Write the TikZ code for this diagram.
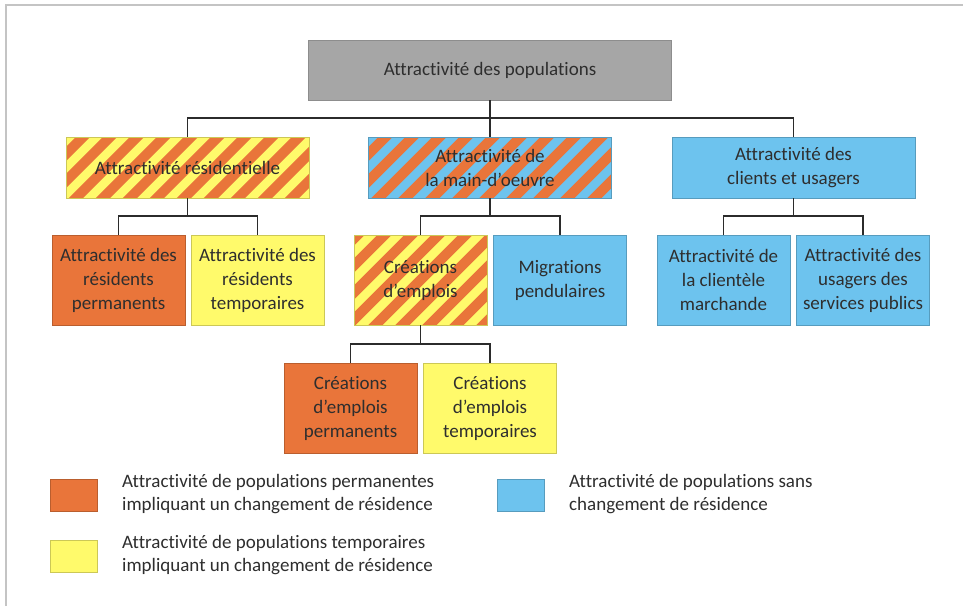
\documentclass[tikz,border=0pt]{standalone}
\usepackage{fontspec}
\setmainfont{Carlito}[Ligatures={NoCommon}]
\definecolor{cOr}{HTML}{E9753A}
\definecolor{cYe}{HTML}{FFFA6B}
\definecolor{cBl}{HTML}{6DC3EE}
\definecolor{cGr}{HTML}{A6A6A6}
\definecolor{cTx}{HTML}{2E2E2E}
\definecolor{cLn}{HTML}{2B2B2B}
\definecolor{cFr}{HTML}{C4C4C4}
\tikzset{
  box/.style={draw, line width=0.8pt, inner sep=0pt, align=center, text=cTx,
    font=\fontsize{19}{24}\selectfont},
  widebox/.style={box, minimum width=243pt, minimum height=61pt},
  smallbox/.style={box, minimum width=133pt, minimum height=90pt},
  orfill/.style={fill=cOr, draw=cOr!80!black},
  yefill/.style={fill=cYe, draw=cYe!80!black},
  blfill/.style={fill=cBl, draw=cBl!80!black},
  stripes/.style 2 args={fill=#1, draw=#1!80!black,
    path picture={
      \foreach \k in {-12,...,12}{
        \draw[line width=10pt, #2]
          ([xshift=\k*27pt]path picture bounding box.center) ++(-80pt,-80pt) -- ++(160pt,160pt);
      }
    }},
  conn/.style={draw=cLn, line width=1.8pt},
  legsq/.style={draw, line width=0.8pt, minimum width=47pt, minimum height=32pt, inner sep=0pt},
  legtx/.style={anchor=west, align=left, text=cTx, inner sep=0pt,
    font=\fontsize{19}{23}\selectfont},
}
\begin{document}
\begin{tikzpicture}[x=1pt, y=-1pt]
\useasboundingbox (0,0) rectangle (963,606);
\fill[white] (0,0) rectangle (963,606);
% frame (top and left edges)
\draw[cFr, line width=1.5pt] (6,606) -- (6,5) -- (963,5);

% nodes
\node[box, fill=cGr, draw=cGr!85!black, minimum width=363pt, minimum height=60pt] (top) at (490,70) {Attractivité des populations};

\node[widebox, stripes={cYe}{cOr}] (res) at (187.5,167.5) {Attractivité résidentielle};
\node[widebox, stripes={cBl}{cOr}] (mo) at (490,167.5) {Attractivité de\\la main-d’oeuvre};
\node[widebox, blfill] (cl) at (793.5,167.5) {Attractivité des\\clients et usagers};

\node[smallbox, orfill] (rp) at (118.5,280) {Attractivité des\\résidents\\permanents};
\node[smallbox, yefill] (rt) at (257.5,280) {Attractivité des\\résidents\\temporaires};
\node[smallbox, stripes={cYe}{cOr}] (ce) at (420.5,280) {Créations\\d’emplois};
\node[smallbox, blfill] (mp) at (560,280) {Migrations\\pendulaires};
\node[smallbox, blfill] (cm) at (723.5,280) {Attractivité de\\la clientèle\\marchande};
\node[smallbox, blfill] (us) at (863,280) {Attractivité des\\usagers des\\services publics};

\node[smallbox, orfill] (cp) at (350.5,408) {Créations\\d’emplois\\permanents};
\node[smallbox, yefill] (ct) at (490,408) {Créations\\d’emplois\\temporaires};

% connectors
\path (res.north) ++(0,-19) coordinate (b0);
\draw[conn] (top.south) -- (mo.north);
\draw[conn] (res.north) -- (b0) -- (cl.north |- b0) -- (cl.north);

\path (rp.north) ++(0,-19) coordinate (b1);
\draw[conn] (rp.north) -- (b1) -| (rt.north);
\draw[conn] (res.south) -- (res.south |- b1);

\path (ce.north) ++(0,-19) coordinate (b2);
\draw[conn] (ce.north) -- (b2) -| (mp.north);
\draw[conn] (mo.south) -- (mo.south |- b2);

\path (cm.north) ++(0,-19) coordinate (b3);
\draw[conn] (cm.north) -- (b3) -| (us.north);
\draw[conn] (cl.south) -- (cl.south |- b3);

\path (cp.north) ++(0,-19) coordinate (b4);
\draw[conn] (cp.north) -- (b4) -| (ct.north);
\draw[conn] (ce.south) -- (ce.south |- b4);

% legend
\node[legsq, orfill] (lo) at (73.5,495) {};
\node[legsq, yefill] (ly) at (73.5,556) {};
\node[legsq, blfill] (lb) at (520.5,495) {};
\node[legtx] (lot) at (122,494.5) {Attractivité de populations permanentes\\impliquant un changement de résidence};
\node[legtx] (lyt) at (122,555.5) {Attractivité de populations temporaires\\impliquant un changement de résidence};
\node[legtx] (lbt) at (569,494) {Attractivité de populations sans\\changement de résidence};
\end{tikzpicture}
\end{document}
